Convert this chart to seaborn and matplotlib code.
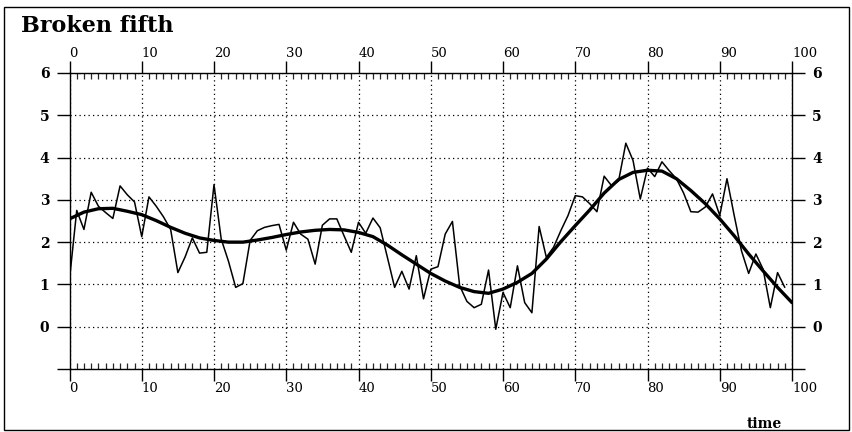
# Broken fifth: noisy series with a smooth fit, old-style framed plot
import numpy as np
import pandas as pd
import seaborn as sns
import matplotlib.pyplot as plt
from matplotlib.ticker import MultipleLocator
from matplotlib.patches import Rectangle

# %%
# values
time = list(range(0, 100))
series = [1.12, 2.75, 2.30, 3.18, 2.85, 2.70, 2.56, 3.33, 3.12, 2.95,
          2.13, 3.07, 2.85, 2.60, 2.30, 1.28, 1.65, 2.10, 1.74, 1.76,
          3.36, 2.07, 1.55, 0.93, 1.02, 2.04, 2.27, 2.35, 2.39, 2.42,
          1.81, 2.47, 2.19, 2.07, 1.48, 2.40, 2.55, 2.55, 2.15, 1.76,
          2.47, 2.21, 2.57, 2.34, 1.64, 0.93, 1.31, 0.89, 1.68, 0.66,
          1.36, 1.42, 2.19, 2.49, 0.97, 0.60, 0.45, 0.53, 1.34, -0.06,
          0.81, 0.45, 1.44, 0.57, 0.33, 2.37, 1.64, 1.88, 2.27, 2.63,
          3.10, 3.07, 2.91, 2.72, 3.56, 3.34, 3.45, 4.34, 3.93, 3.02,
          3.75, 3.55, 3.90, 3.69, 3.50, 3.16, 2.72, 2.71, 2.83, 3.14,
          2.63, 3.50, 2.63, 1.80, 1.26, 1.72, 1.36, 0.45, 1.28, 0.93]

fit_time = list(range(0, 101, 2))
fit = [2.55, 2.71, 2.79, 2.80, 2.73, 2.65, 2.51, 2.35, 2.21, 2.10,
       2.04, 2.00, 2.00, 2.05, 2.11, 2.18, 2.24, 2.28, 2.30, 2.29,
       2.23, 2.13, 1.93, 1.70, 1.48, 1.26, 1.08, 0.93, 0.83, 0.79,
       0.89, 1.05, 1.26, 1.60, 2.01, 2.39, 2.76, 3.16, 3.48, 3.65,
       3.70, 3.68, 3.50, 3.22, 2.91, 2.55, 2.15, 1.72, 1.32, 0.93,
       0.57]

xticks = list(range(0, 101, 10))
yticks = list(range(-1, 7))
ylabels = ["", "0", "1", "2", "3", "4", "5", "6"]

raw = pd.DataFrame({"time": time, "value": series})
smooth = pd.DataFrame({"time": fit_time, "value": fit})

# %%
sns.set_style("white")
plt.rcParams['font.family'] = ['DejaVu Serif']
plt.rcParams['text.color'] = 'black'

fig = plt.figure(figsize=(8.52, 4.32), dpi=100)
ax = fig.add_axes([69.5 / 852, 1 - 369 / 432, (792 - 69.5) / 852, (369 - 73) / 432])

sns.lineplot(data=raw, x="time", y="value", ax=ax, color="black", lw=1.1)
sns.lineplot(data=smooth, x="time", y="value", ax=ax, color="black", lw=2.4)

ax.set(xlim=(0, 100), ylim=(-1, 6), xlabel="", ylabel="")
ax.set_xticks(xticks, [str(v) for v in xticks])
ax.set_yticks(yticks, ylabels)
ax.xaxis.set_minor_locator(MultipleLocator(1))

ax.grid(True, which="major", color="black", lw=0.9, linestyle=(0, (1, 2.6)))

for s in ax.spines.values():
    s.set_visible(True)
    s.set_color("black")
    s.set_linewidth(1.0)

ax.tick_params(axis="x", which="major", direction="out", length=8.5, width=1.0,
               top=True, bottom=True, labeltop=True, labelbottom=True,
               pad=1, labelsize=9.5, colors="black")
ax.tick_params(axis="x", which="minor", direction="in", length=4.5, width=0.9,
               top=True, bottom=True)
ax.tick_params(axis="y", which="major", direction="out", length=9.5, width=1.0,
               left=True, right=True, labelleft=True, labelright=True,
               pad=5, labelsize=10, colors="black")
for t in ax.xaxis.get_major_ticks():
    t.label1.set_horizontalalignment("left")
    t.label2.set_horizontalalignment("left")
for t in ax.yaxis.get_major_ticks():
    t.label1.set_fontweight("bold")
    t.label2.set_fontweight("bold")

fig.text(21 / 852, 1 - 32 / 432, "Broken fifth", fontsize=16, fontweight="bold",
         va="baseline", ha="left", color="black")
fig.text(764 / 852, 1 - 428 / 432, "time", fontsize=10, fontweight="bold",
         va="baseline", ha="center", color="black")

fig.patches.append(Rectangle((4 / 852, 2 / 432), 845 / 852, 423 / 432,
                             transform=fig.transFigure, fill=False,
                             edgecolor="black", lw=1.0))

fig.savefig("out.png", dpi=100)
